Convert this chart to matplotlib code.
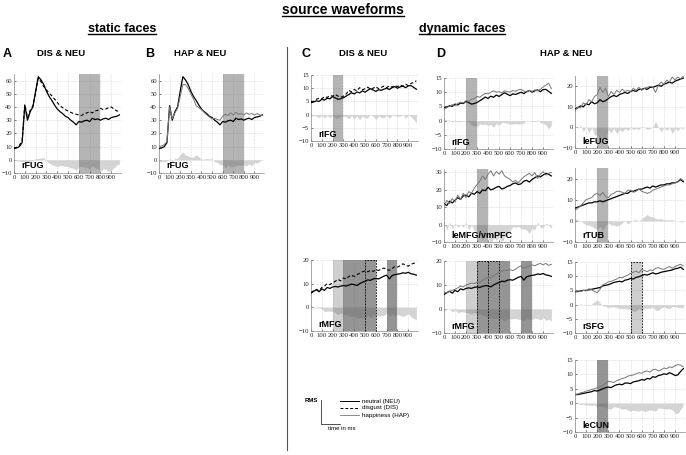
import matplotlib
matplotlib.use("Agg")
import matplotlib.pyplot as plt
from matplotlib.lines import Line2D

W, H = 686, 455

plt.rcParams["font.family"] = ["Liberation Sans", "DejaVu Sans"]

# time axis in ms (one sample every 25 ms)
TIME = list(range(0, 1000, 25))

# rFUG (static faces)
rFUG_NEU = [8.5, 9.0, 10.0, 13.0, 41.0, 30.0, 36.5, 40.0, 52.0, 63.0, 60.5, 57.0, 52.0, 48.0, 45.0, 41.5,
            38.5, 36.5, 35.0, 33.0, 32.0, 30.0, 28.5, 26.5, 29.0, 28.5, 29.5, 30.0, 29.0, 31.5, 30.5, 31.0,
            30.0, 31.0, 31.5, 30.5, 32.0, 32.5, 33.0, 34.0]
rFUG_DIS = [9.0, 9.5, 11.0, 14.5, 42.0, 32.0, 37.5, 41.0, 51.0, 62.0, 59.0, 55.5, 53.0, 50.5, 48.5, 46.0,
            43.5, 41.0, 39.5, 38.0, 37.0, 36.0, 35.0, 34.5, 34.0, 33.5, 35.0, 35.5, 36.5, 35.5, 37.0, 37.5,
            39.0, 38.0, 38.5, 39.5, 40.0, 38.5, 37.0, 37.0]
rFUG_HAP = [10.0, 10.5, 11.5, 14.0, 40.0, 31.0, 35.5, 39.0, 48.0, 57.0, 57.0, 54.0, 50.0, 46.0, 41.0, 39.5,
            38.0, 36.0, 34.0, 32.5, 31.0, 31.5, 30.5, 30.0, 33.0, 34.5, 33.5, 35.5, 34.0, 36.0, 34.5, 35.0,
            34.0, 35.5, 34.5, 35.0, 34.0, 35.0, 34.0, 33.5]

# rIFG (dynamic faces)
rIFG_NEU = [4.5, 4.8, 5.2, 5.0, 5.8, 5.5, 6.2, 6.0, 6.8, 6.3, 5.8, 6.0, 6.4, 7.0, 7.6, 8.3, 7.8, 8.6, 8.2,
            9.0, 8.5, 9.2, 9.8, 9.3, 8.8, 9.4, 9.2, 9.6, 10.0, 9.5, 10.2, 10.6, 10.0, 10.5, 10.8, 10.2,
            10.9, 11.0, 10.3, 9.6]
rIFG_DIS = [5.0, 5.0, 5.8, 6.2, 6.0, 6.8, 6.5, 7.2, 7.0, 7.6, 7.0, 6.6, 7.0, 7.8, 9.2, 8.6, 9.5, 9.0, 10.2,
            9.4, 9.8, 10.4, 9.6, 10.0, 10.6, 9.8, 10.3, 10.8, 10.2, 10.9, 10.4, 11.0, 10.6, 11.2, 10.8,
            11.5, 11.0, 11.8, 12.2, 12.8]
rIFG_HAP = [4.0, 4.6, 5.0, 5.6, 5.3, 6.0, 6.5, 6.2, 7.0, 6.8, 7.5, 7.8, 8.5, 8.2, 9.0, 9.6, 9.4, 10.0, 10.5,
            10.0, 10.2, 9.8, 10.5, 10.2, 10.0, 10.6, 10.3, 10.8, 11.0, 10.4, 10.0, 10.6, 10.3, 10.8, 10.5,
            11.0, 11.8, 12.5, 13.2, 11.2]

# rMFG
rMFG_NEU = [6.0, 6.8, 7.4, 6.6, 7.8, 7.2, 8.4, 8.0, 8.6, 8.8, 8.6, 9.0, 9.2, 9.0, 9.4, 9.8, 9.6, 9.2, 10.0,
            10.6, 11.0, 11.6, 11.4, 12.0, 12.2, 12.0, 12.6, 13.2, 13.6, 12.0, 13.4, 13.8, 14.0, 14.2, 14.6,
            14.4, 14.8, 14.2, 14.0, 13.6]
rMFG_DIS = [6.2, 7.0, 7.6, 7.0, 8.4, 9.0, 10.0, 9.6, 10.4, 11.0, 11.8, 11.2, 12.4, 12.0, 13.0, 13.6, 13.0,
            13.8, 14.4, 15.0, 15.4, 15.0, 15.6, 15.2, 15.8, 15.6, 16.2, 16.6, 16.0, 15.6, 16.4, 17.2, 17.0,
            17.6, 18.4, 17.8, 17.4, 18.2, 18.6, 19.0]
rMFG_HAP = [7.0, 6.6, 7.4, 7.8, 8.2, 8.8, 9.6, 9.2, 10.0, 10.4, 10.8, 10.6, 11.2, 11.0, 12.0, 12.6, 13.2,
            12.8, 14.0, 14.6, 15.2, 15.8, 16.2, 16.0, 16.4, 16.0, 16.6, 17.4, 18.0, 17.0, 17.4, 18.0, 18.4,
            18.0, 18.6, 19.0, 18.4, 19.0, 18.2, 18.6]

# leMFG/vmPFC
leMFG_NEU = [12.0, 11.0, 13.5, 12.5, 14.0, 15.5, 14.5, 16.5, 17.0, 16.0, 18.0, 17.5, 19.0, 18.0, 20.0, 19.5,
             21.5, 20.0, 20.5, 21.5, 22.0, 20.5, 21.0, 22.0, 22.5, 23.5, 24.0, 23.0, 23.5, 25.0, 25.5, 24.5,
             26.0, 27.0, 28.0, 27.5, 28.5, 29.5, 29.0, 28.0]
leMFG_HAP = [11.0, 14.0, 12.0, 15.0, 13.0, 17.0, 14.5, 18.0, 15.5, 19.0, 18.0, 21.0, 23.0, 25.0, 28.0, 26.0,
             29.0, 31.0, 28.0, 30.5, 29.0, 31.0, 28.0, 27.0, 26.0, 24.5, 25.5, 24.0, 26.0, 27.5, 28.5, 29.5,
             28.0, 30.0, 26.5, 29.0, 30.5, 28.5, 29.5, 30.0]

# leFUG
leFUG_NEU = [9.0, 9.5, 10.5, 10.0, 11.5, 11.0, 12.5, 11.5, 12.0, 13.5, 12.5, 13.0, 14.0, 15.0, 15.5, 15.0,
             16.0, 16.5, 17.0, 16.5, 17.5, 18.0, 17.5, 18.5, 18.5, 19.0, 18.5, 19.5, 19.5, 20.0, 20.5, 20.0,
             21.0, 21.5, 22.0, 21.5, 22.5, 23.0, 23.5, 24.0]
leFUG_HAP = [8.0, 10.0, 9.5, 12.0, 11.0, 13.5, 12.5, 15.0, 16.0, 19.5, 17.0, 19.0, 15.0, 17.5, 16.0, 18.0,
             17.0, 18.5, 17.5, 18.0, 17.5, 19.0, 18.0, 19.5, 18.0, 19.0, 19.5, 20.0, 19.5, 17.0, 20.5, 22.0,
             21.0, 23.0, 22.0, 24.5, 23.0, 24.5, 23.5, 25.0]

# rTUB
rTUB_NEU = [6.0, 6.5, 7.0, 7.5, 8.0, 8.5, 8.5, 9.0, 9.0, 9.5, 9.0, 9.5, 10.0, 10.5, 11.0, 11.5, 12.0, 12.5,
            13.0, 13.0, 14.0, 14.0, 14.5, 15.0, 15.0, 15.5, 16.0, 15.5, 16.5, 16.0, 16.5, 17.0, 17.0, 17.5,
            17.5, 18.0, 18.0, 18.5, 19.5, 18.5]
rTUB_HAP = [5.0, 6.0, 7.0, 8.5, 10.0, 10.5, 11.0, 12.5, 13.0, 12.0, 13.5, 11.5, 11.0, 12.5, 13.0, 14.0,
            14.0, 13.5, 13.0, 14.5, 14.5, 13.5, 14.0, 15.0, 14.0, 13.5, 13.0, 13.5, 14.5, 15.0, 15.5, 16.0,
            16.5, 17.0, 17.0, 17.5, 18.0, 18.5, 20.0, 19.0]

# rSFG
rSFG_NEU = [4.5, 4.6, 4.8, 5.0, 5.0, 5.2, 5.4, 5.6, 5.8, 6.0, 6.6, 6.8, 7.0, 7.4, 7.8, 8.0, 8.2, 8.0, 8.6,
            8.8, 9.2, 9.0, 9.6, 9.8, 10.2, 10.6, 10.4, 10.8, 11.2, 10.8, 11.0, 11.4, 11.6, 11.8, 12.0, 12.2,
            12.6, 12.8, 13.2, 12.4]
rSFG_HAP = [4.4, 4.8, 4.6, 5.0, 4.8, 5.6, 5.2, 4.6, 4.2, 5.4, 7.0, 7.4, 8.0, 8.2, 8.6, 9.0, 9.6, 9.4, 10.0,
            10.4, 11.0, 11.4, 11.8, 11.2, 12.4, 12.0, 11.6, 12.2, 12.0, 12.8, 13.0, 12.6, 12.4, 13.0, 13.4,
            12.8, 13.4, 13.8, 14.2, 13.6]

# leCUN
leCUN_NEU = [3.0, 3.0, 3.2, 3.4, 3.6, 3.8, 4.0, 4.4, 4.2, 4.6, 5.0, 5.4, 5.6, 5.4, 6.0, 6.4, 6.6, 6.4, 7.0,
             7.0, 6.8, 7.4, 7.6, 7.8, 8.2, 8.0, 8.6, 8.4, 9.2, 9.0, 9.6, 9.8, 10.2, 10.0, 10.6, 10.2, 9.6,
             9.8, 11.0, 12.0]
leCUN_HAP = [3.0, 3.2, 3.6, 3.8, 4.2, 4.4, 4.8, 5.0, 5.4, 5.6, 6.2, 6.8, 7.6, 7.4, 7.2, 7.8, 8.2, 8.6, 8.8,
             9.4, 9.6, 9.8, 10.2, 10.6, 10.4, 11.0, 11.2, 10.8, 11.6, 11.8, 11.2, 11.6, 12.2, 12.0, 12.6,
             12.4, 13.0, 13.4, 13.2, 12.6]

XTICKS = [0, 100, 200, 300, 400, 500, 600, 700, 800, 900]
BAND_ALPHA = {"light": 0.28, "mid": 0.44, "dark": 0.62}


def px(x, y):
    return x / W, 1 - y / H


def panel(fig, box, ylim, ystep, label, neu, emo, kind, bands=(), boxes=(), vlines=()):
    x0, x1, ytop, ybot = box
    ax = fig.add_axes([x0 / W, 1 - ybot / H, (x1 - x0) / W, (ybot - ytop) / H])
    diff = [n - e for n, e in zip(neu, emo)]
    ax.fill_between(TIME, 0, diff, color="#d4d4d4", lw=0, zorder=1)
    for b0, b1, shade in bands:
        ax.axvspan(b0, b1, color="#555555", alpha=BAND_ALPHA[shade], lw=0, zorder=2)
    for b0, b1 in boxes:
        ax.plot([b0, b0, b1, b1], [ylim[0], ylim[1], ylim[1], ylim[0]], color="black",
                lw=0.6, ls=(0, (2, 1.5)), zorder=3, clip_on=False)
    for v in vlines:
        ax.plot([v, v], ylim, color="black", lw=0.6, ls=(0, (2, 1.5)), zorder=3)
    ax.plot(TIME, neu, color="black", lw=0.9, zorder=4)
    if kind == "dis":
        ax.plot(TIME, emo, color="black", lw=0.8, ls=(0, (3, 2)), zorder=4)
    else:
        ax.plot(TIME, emo, color="#777777", lw=0.7, zorder=4)

    ax.set_xlim(0, 990)
    ax.set_ylim(*ylim)
    ax.set_xticks(XTICKS)
    ax.set_yticks(list(range(ylim[0], ylim[1] + 1, ystep)))
    ax.grid(True, ls=":", lw=0.4, color="#bbbbbb")
    ax.set_axisbelow(True)
    for s in ("top", "right"):
        ax.spines[s].set_visible(False)
    for s in ("left", "bottom"):
        ax.spines[s].set_color("#888888")
        ax.spines[s].set_linewidth(0.5)
    ax.tick_params(length=1.5, width=0.4, direction="in", pad=1.5, labelsize=4.8, colors="#222222")
    for t in ax.get_xticklabels() + ax.get_yticklabels():
        t.set_fontfamily("Liberation Serif")
    ax.text(0.07, 0.03, label, transform=ax.transAxes, fontsize=6.5, fontweight="bold",
            ha="left", va="bottom", zorder=6)
    return ax


fig = plt.figure(figsize=(W / 100, H / 100), dpi=100)

# static faces
panel(fig, (14, 121, 74, 173), (-10, 65), 10, "rFUG", rFUG_NEU, rFUG_DIS, "dis",
      bands=[(600, 800, "mid")])
panel(fig, (159, 264, 74, 173), (-10, 65), 10, "rFUG", rFUG_NEU, rFUG_HAP, "hap",
      bands=[(600, 800, "mid")])

# dynamic faces, DIS & NEU
panel(fig, (311, 418, 75, 141), (-10, 15), 5, "rIFG", rIFG_NEU, rIFG_DIS, "dis",
      bands=[(200, 300, "mid")])
panel(fig, (311, 418, 260, 331), (-10, 20), 10, "rMFG", rMFG_NEU, rMFG_DIS, "dis",
      bands=[(200, 300, "light"), (300, 600, "dark"), (700, 800, "dark")], boxes=[(500, 600)])

# dynamic faces, HAP & NEU
panel(fig, (444, 553, 78, 149), (-10, 15), 5, "rIFG", rIFG_NEU, rIFG_HAP, "hap",
      bands=[(200, 300, "mid")])
panel(fig, (444, 553, 169, 242), (-10, 32), 10, "leMFG/vmPFC", leMFG_NEU, leMFG_HAP, "hap",
      bands=[(300, 400, "mid")])
panel(fig, (444, 553, 261, 333), (-10, 20), 10, "rMFG", rMFG_NEU, rMFG_HAP, "hap",
      bands=[(200, 300, "light"), (300, 600, "dark"), (700, 800, "dark")],
      boxes=[(300, 500)], vlines=[400])
panel(fig, (575, 685, 76, 148), (-10, 25), 10, "leFUG", leFUG_NEU, leFUG_HAP, "hap",
      bands=[(200, 300, "mid")])
panel(fig, (575, 685, 168, 242), (-10, 25), 10, "rTUB", rTUB_NEU, rTUB_HAP, "hap",
      bands=[(200, 300, "mid")])
panel(fig, (575, 685, 262, 333), (-10, 15), 5, "rSFG", rSFG_NEU, rSFG_HAP, "hap",
      bands=[(500, 600, "light")], boxes=[(500, 600)])
panel(fig, (575, 685, 360, 432), (-10, 15), 5, "leCUN", leCUN_NEU, leCUN_HAP, "hap",
      bands=[(200, 300, "dark")])

# headings
underlined = [
    fig.text(*px(343, 14), "source waveforms", ha="center", va="baseline", fontsize=10, fontweight="bold"),
    fig.text(*px(122, 32), "static faces", ha="center", va="baseline", fontsize=9, fontweight="bold"),
    fig.text(*px(462, 32), "dynamic faces", ha="center", va="baseline", fontsize=9, fontweight="bold"),
]
for x, s in [(7.5, "A"), (150, "B"), (306, "C"), (441, "D")]:
    fig.text(*px(x, 57), s, ha="center", va="baseline", fontsize=9, fontweight="bold")
for x, s in [(61, "DIS & NEU"), (200, "HAP & NEU"), (363, "DIS & NEU"), (566, "HAP & NEU")]:
    fig.text(*px(x, 56), s, ha="center", va="baseline", fontsize=6.8, fontweight="bold")

# separator between static and dynamic
fig.add_artist(Line2D([287 / W, 287 / W], [1 - 47 / H, 1 - 450 / H], color="#555555", lw=0.8))

# legend / axis key
fig.add_artist(Line2D([321 / W, 321 / W, 340 / W], [1 - 400 / H, 1 - 424 / H, 1 - 424 / H],
                      color="#333333", lw=0.6))
fig.text(*px(305, 401), "RMS", fontsize=4.3, fontweight="bold", va="center", ha="left")
fig.text(*px(328, 429), "time in ms", fontsize=4.3, va="center", ha="left")
for y, style, s in [(401, dict(color="black", lw=0.7), "neutral (NEU)"),
                    (408, dict(color="black", lw=0.7, ls=(0, (3, 2))), "disgust (DIS)"),
                    (415, dict(color="#777777", lw=0.6), "happiness (HAP)")]:
    fig.add_artist(Line2D([340 / W, 359 / W], [1 - y / H, 1 - y / H], **style))
    fig.text(*px(362, y), s, fontsize=4.5, va="center", ha="left")

# underline the headings
fig.canvas.draw()
for t in underlined:
    bb = t.get_window_extent()
    yb = t.get_position()[1] - 2.0 / H
    fig.add_artist(Line2D([bb.x0 / W, bb.x1 / W], [yb, yb], color="black", lw=1.0))

fig.savefig("out.png", dpi=100)
